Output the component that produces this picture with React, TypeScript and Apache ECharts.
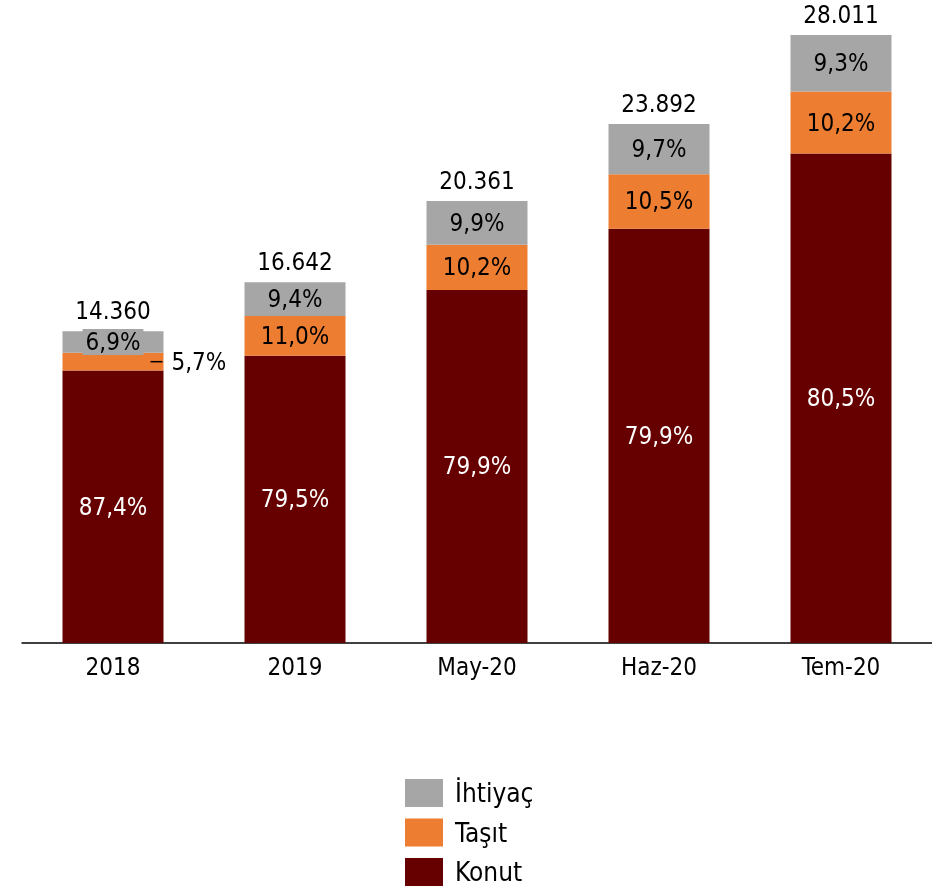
import React, { useEffect, useRef } from "react";
import * as echarts from "echarts";

const categories = ["2018", "2019", "May-20", "Haz-20", "Tem-20"];
const totals = [14360, 16642, 20361, 23892, 28011];
const konutPct = [87.4, 79.5, 79.9, 79.9, 80.5];
const tasitPct = [5.7, 11.0, 10.2, 10.5, 10.2];
const ihtiyacPct = [6.9, 9.4, 9.9, 9.7, 9.3];
const legendNames = ["İhtiyaç", "Taşıt", "Konut"];

const FONT = "'DejaVu Sans Condensed', 'DejaVu Sans', sans-serif";
const FS = 24;

const fmtPct = (v: number) => v.toFixed(1).replace(".", ",") + "%";
const fmtTotal = (v: number) => v.toLocaleString("de-DE");

export default function App() {
  const ref = useRef<HTMLDivElement>(null);
  useEffect(() => {
    if (!ref.current) return;
    const chart = echarts.init(ref.current, null, { renderer: "svg" });
    const seg = (pcts: number[]) => pcts.map((p, i) => (totals[i] * p) / 100);

    const konutData = seg(konutPct);
    const tasitData: any[] = seg(tasitPct).map((v, i) =>
      i === 0
        ? {
            value: v,
            label: {
              position: "right",
              distance: -13,
              formatter: "{d|}{v|" + fmtPct(tasitPct[0]) + "}",
              rich: {
                d: { width: 12, height: 1.5, backgroundColor: "#000" },
                v: { fontSize: FS, fontFamily: FONT, color: "#000", padding: [0, 0, 0, 9] },
              },
            },
          }
        : v
    );
    const ihtiyacData: any[] = seg(ihtiyacPct).map((v, i) =>
      i === 0
        ? {
            value: v,
            label: { backgroundColor: "#A6A6A6", padding: [1, 3, 1, 3] },
          }
        : v
    );

    const labelBase = {
      show: true,
      position: "inside",
      fontSize: FS,
      fontFamily: FONT,
    };

    chart.setOption({
      animation: false,
      textStyle: { fontFamily: FONT },
      grid: { left: 22, right: 0, top: 35, bottom: 245, containLabel: false },
      legend: {
        data: legendNames,
        orient: "vertical",
        left: 405,
        top: 779,
        height: 109,
        itemWidth: 38,
        itemHeight: 28,
        itemGap: 11.5,
        padding: 0,
        icon: "rect",
        textStyle: { fontSize: 26, fontFamily: FONT, color: "#000", padding: [0, 0, 0, 7] },
      },
      xAxis: {
        type: "category",
        data: categories,
        axisLine: { lineStyle: { color: "#000", width: 1.5 } },
        axisTick: { show: false },
        axisLabel: { color: "#000", fontSize: FS, fontFamily: FONT, margin: 12 },
      },
      yAxis: {
        type: "value",
        show: false,
        min: 0,
        max: Math.max(...totals),
        splitLine: { show: false },
      },
      series: [
        {
          name: "Konut",
          type: "bar",
          stack: "a",
          barWidth: "55.5%",
          itemStyle: { color: "#660000" },
          label: {
            ...labelBase,
            color: "#fff",
            formatter: (p: any) => fmtPct(konutPct[p.dataIndex]),
          },
          data: konutData,
        },
        {
          name: "Taşıt",
          type: "bar",
          stack: "a",
          itemStyle: { color: "#ED7D31" },
          label: {
            ...labelBase,
            color: "#000",
            formatter: (p: any) => fmtPct(tasitPct[p.dataIndex]),
          },
          data: tasitData,
        },
        {
          name: "İhtiyaç",
          type: "bar",
          stack: "a",
          itemStyle: { color: "#A6A6A6" },
          label: {
            ...labelBase,
            color: "#000",
            formatter: (p: any) => fmtPct(ihtiyacPct[p.dataIndex]),
          },
          data: ihtiyacData,
        },
        {
          name: "Toplam",
          type: "bar",
          stack: "a",
          itemStyle: { color: "transparent" },
          label: {
            show: true,
            position: "top",
            distance: 8,
            fontSize: FS,
            fontFamily: FONT,
            color: "#000",
            formatter: (p: any) => fmtTotal(totals[p.dataIndex]),
          },
          data: totals.map(() => 0),
        },
      ],
    });
    return () => chart.dispose();
  }, []);
  return (
    <div
      ref={ref}
      style={{ position: "fixed", left: 0, top: 0, width: 932, height: 888 }}
    />
  );
}
